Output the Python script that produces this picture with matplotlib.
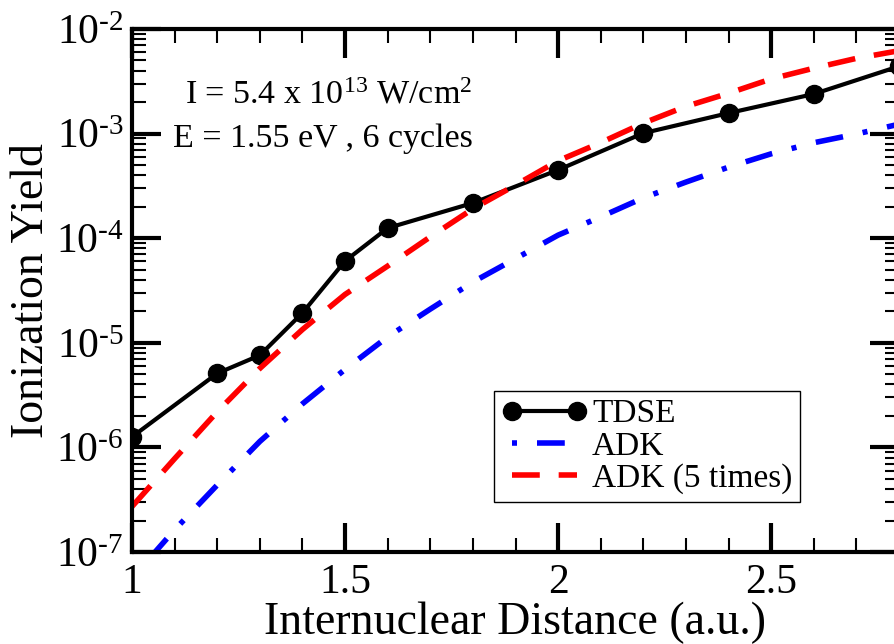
"""
Ionization yield vs internuclear distance: TDSE vs ADK
"""

import numpy as np
import matplotlib
matplotlib.use('Agg')
import matplotlib.pyplot as plt
from matplotlib.ticker import MultipleLocator, LogLocator, NullFormatter

plt.rcParams['font.family'] = ['Liberation Serif', 'DejaVu Serif']
plt.rcParams['mathtext.fontset'] = 'custom'
plt.rcParams['mathtext.rm'] = 'Liberation Serif'
plt.rcParams['mathtext.it'] = 'Liberation Serif:italic'
plt.rcParams['mathtext.default'] = 'regular'
plt.rcParams['axes.unicode_minus'] = False

# TDSE results (points)
r_tdse = [1.0, 1.2, 1.3, 1.4, 1.5, 1.6, 1.8, 2.0, 2.2, 2.4, 2.6, 2.8]
y_tdse = [1.26e-6, 5.1e-6, 7.6e-6, 1.93e-5, 6.05e-5, 1.25e-4,
          2.17e-4, 4.49e-4, 1.01e-3, 1.57e-3, 2.39e-3, 4.4e-3]

# ADK curves
r_adk = [1.0, 1.1, 1.2, 1.3, 1.4, 1.5, 1.6, 1.7, 1.8, 1.9,
         2.0, 2.1, 2.2, 2.3, 2.4, 2.5, 2.6, 2.7, 2.8]
y_adk = [5.6e-8, 1.63e-7, 4.37e-7, 1.14e-6, 2.61e-6, 5.57e-6, 1.14e-5, 2.10e-5, 3.81e-5, 6.38e-5,
         1.07e-4, 1.60e-4, 2.43e-4, 3.44e-4, 4.78e-4, 6.41e-4, 8.18e-4, 9.91e-4, 1.23e-3]
y_adk5 = [2.72e-7, 7.80e-7, 2.19e-6, 5.69e-6, 1.34e-5, 2.90e-5, 5.42e-5, 1.03e-4, 1.91e-4, 3.22e-4,
          5.50e-4, 8.20e-4, 1.26e-3, 1.82e-3, 2.43e-3, 3.33e-3, 4.22e-3, 5.24e-3, 6.20e-3]

W, H = 894, 644
fig = plt.figure(figsize=(W / 100, H / 100), dpi=100)
# right spine sits just past the image edge (cropped like the original)
ax = fig.add_axes([132 / W, 92 / H, 767 / W, 523 / H])

ax.plot(r_tdse, y_tdse, color='black', lw=3.0, marker='o', ms=13, label='TDSE')
ax.plot(r_adk, y_adk, color='blue', lw=4, dashes=(0.9, 3.6, 5.0, 3.6), label='ADK')
ax.plot(r_adk, y_adk5, color='red', lw=4, dashes=(5.0, 3.4), label='ADK (5 times)')

ax.set_yscale('log')
ax.set_xlim(1, 2.8)
ax.set_ylim(1e-7, 1e-2)


def log_label(v, pos):
    e = int(round(np.log10(v)))
    if e < 0:
        return r'$10^{\text{-}%d}$' % -e
    return r'$10^{%d}$' % e


ax.xaxis.set_major_locator(MultipleLocator(0.5))
ax.xaxis.set_minor_locator(MultipleLocator(0.1))
ax.yaxis.set_major_locator(LogLocator(base=10, numticks=10))
ax.yaxis.set_minor_locator(LogLocator(base=10, subs=np.arange(2, 10), numticks=20))
ax.yaxis.set_major_formatter(plt.FuncFormatter(log_label))
ax.yaxis.set_minor_formatter(NullFormatter())
ax.xaxis.set_major_formatter(plt.FuncFormatter(lambda v, p: f'{v:g}'))

ax.tick_params(which='both', direction='in', top=True, right=True)
ax.tick_params(which='major', length=21, width=3, labelsize=30)
ax.tick_params(axis='y', which='major', pad=6)
ax.tick_params(axis='x', which='major', pad=8)
ax.tick_params(which='minor', length=10, width=1.5)
for s in ax.spines.values():
    s.set_linewidth(3)

ax.set_xlabel('Internuclear Distance (a.u.)', fontsize=33, labelpad=0)
ax.set_ylabel('Ionization Yield', fontsize=33, labelpad=2)

fig.text(185 / W, 1 - 104 / H, r'I = 5.4 x 10$^{13}$ W/cm$^{2}$', fontsize=24.5, va='baseline')
fig.text(173 / W, 1 - 147 / H, 'E = 1.55 eV , 6 cycles', fontsize=24.5, va='baseline')

leg = ax.legend(loc='upper left', bbox_to_anchor=(494 / W, 1 - 391 / H),
                bbox_transform=fig.transFigure, borderaxespad=0,
                fontsize=24, numpoints=2, handlelength=2.55, handletextpad=0.15,
                labelspacing=0.05, borderpad=0.24, fancybox=False, framealpha=1)
leg.get_frame().set_edgecolor('black')
leg.get_frame().set_linewidth(1)

fig.savefig('out.png', dpi=100)
